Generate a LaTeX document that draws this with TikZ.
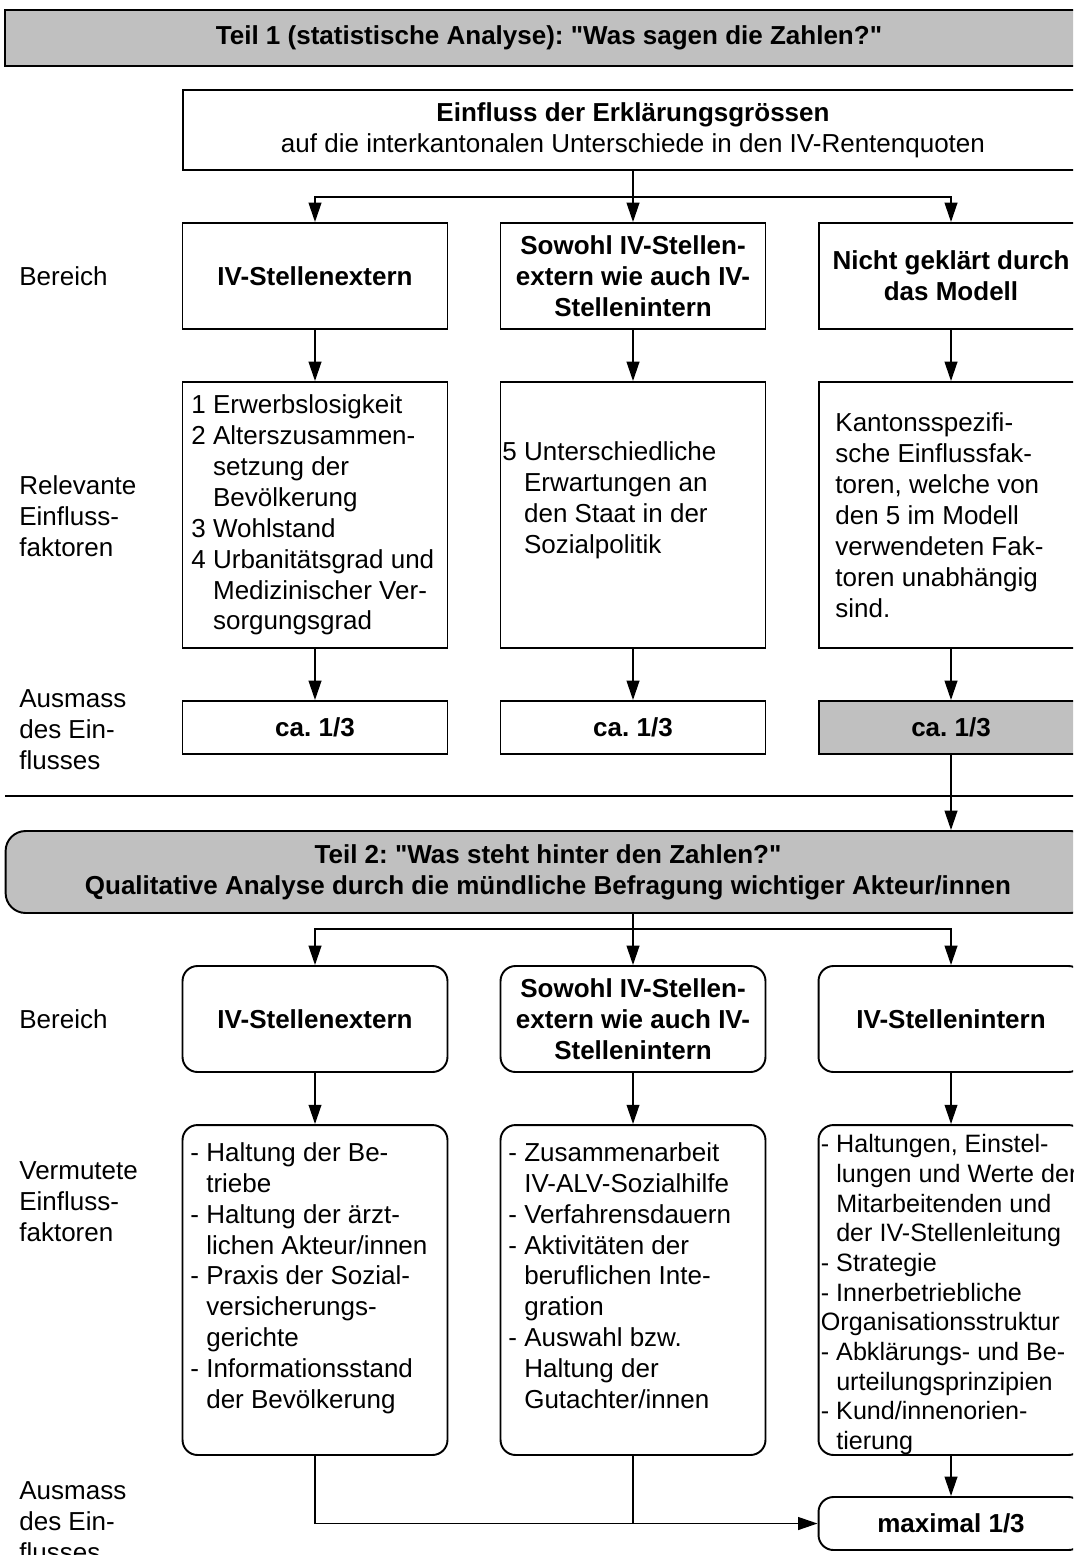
\documentclass[tikz,border=0pt]{standalone}
\usepackage{fontspec}
\setmainfont{Liberation Sans}
\usepackage{tikz}
\usetikzlibrary{positioning,arrows.meta,calc}
\usepackage{xcolor}
\definecolor{grau}{HTML}{C0C0C0}
\frenchspacing

\begin{document}
\begin{tikzpicture}[
    x=0.02cm, y=-0.02cm,
    font=\fontsize{14.8}{17.6}\selectfont,
    kasten/.style={draw=black, line width=1.1pt, minimum width=5.3cm, inner sep=0pt},
    rkasten/.style={kasten, rounded corners=0.3cm},
    kopf/.style={font=\fontsize{14.8}{17.6}\selectfont\bfseries, align=center},
    liste/.style={align=left, inner sep=0pt},
    seite/.style={align=left, anchor=west, inner sep=0pt},
    pfeil/.style={draw=black, line width=1.1pt, -{Triangle[length=11pt,width=7.2pt]}},
    linie/.style={draw=black, line width=1.1pt}
]

    % Rahmen (Bild ist rechts und unten abgeschnitten)
    \useasboundingbox (0,0) rectangle (1073,1555);
    \clip (0,0) rectangle (1073,1555);

    % Teil 1: Kopfbalken
    \node[kasten, kopf, fill=grau, minimum width=21.76cm, minimum height=1.12cm] (teil1) at (549,38)
        {Teil 1 (statistische Analyse): \textquotedbl Was sagen die Zahlen?\textquotedbl};

    \node[kasten, align=center, minimum width=18.02cm, minimum height=1.6cm] (einfluss) at (633,130)
        {\textbf{Einfluss der Erklärungsgrössen}\\auf die interkantonalen Unterschiede in den IV-Rentenquoten};

    % Bereich (Teil 1)
    \node[kasten, kopf, minimum height=2.12cm] (bA) at (315,276) {IV-Stellenextern};
    \node[kasten, kopf, minimum height=2.12cm] (bB) at (633,276) {Sowohl IV-Stellen-\\extern wie auch IV-\\Stellenintern};
    \node[kasten, kopf, minimum height=2.12cm] (bC) at (951,276) {Nicht geklärt durch\\das Modell};

    % Relevante Einflussfaktoren
    \node[kasten, minimum height=5.32cm] (rA) at (315,515) {};
    \node[kasten, minimum height=5.32cm] (rB) at (633,515) {};
    \node[kasten, minimum height=5.32cm] (rC) at (951,515) {};

    \node[liste, anchor=west] (rAtext) at ([xshift=0.19cm]rA.west)
        {1 Erwerbslosigkeit\\2 Alterszusammen-\\\phantom{2 }setzung der\\\phantom{2 }Bevölkerung\\3 Wohlstand\\4 Urbanitätsgrad und\\\phantom{4 }Medizinischer Ver-\\\phantom{4 }sorgungsgrad};
    \node[liste, anchor=west] (rBtext) at ([xshift=0.05cm,yshift=0.3cm]rB.west)
        {5 Unterschiedliche\\\phantom{5 }Erwartungen an\\\phantom{5 }den Staat in der\\\phantom{5 }Sozialpolitik};
    \node[liste, anchor=west] (rCtext) at ([xshift=0.35cm]rC.west)
        {Kantonsspezifi-\\sche Einflussfak-\\toren, welche von\\den 5 im Modell\\verwendeten Fak-\\toren unabhängig\\sind.};

    % Ausmass (Teil 1)
    \node[kasten, kopf, minimum height=1.06cm] (cA) at (315,727.5) {ca. 1/3};
    \node[kasten, kopf, minimum height=1.06cm] (cB) at (633,727.5) {ca. 1/3};
    \node[kasten, kopf, minimum height=1.06cm, fill=grau] (cC) at (951,727.5) {ca. 1/3};

    % Verbindungen Teil 1
    \coordinate (vzA) at (633,197);
    \draw[pfeil] (einfluss.south) -- (bB.north);
    \draw[pfeil] (vzA) -| (bA.north);
    \draw[pfeil] (vzA) -| (bC.north);
    \foreach \s in {A, B, C} {
        \draw[pfeil] (b\s.south) -- (r\s.north);
        \draw[pfeil] (r\s.south) -- (c\s.north);
    }

    % Trennlinie
    \draw[linie] (5,796) -- (1100,796);

    % Teil 2: Kopfbalken
    \node[kasten, kopf, fill=grau, rounded corners=0.4cm, minimum width=21.7cm, minimum height=1.64cm] (teil2) at (548,872)
        {Teil 2: \textquotedbl Was steht hinter den Zahlen?\textquotedbl\\Qualitative Analyse durch die mündliche Befragung wichtiger Akteur/innen};
    \draw[pfeil] (cC.south) -- (cC.south |- teil2.north);

    % Bereich (Teil 2)
    \node[rkasten, kopf, minimum height=2.12cm] (dA) at (315,1019) {IV-Stellenextern};
    \node[rkasten, kopf, minimum height=2.12cm] (dB) at (633,1019) {Sowohl IV-Stellen-\\extern wie auch IV-\\Stellenintern};
    \node[rkasten, kopf, minimum height=2.12cm] (dC) at (951,1019) {IV-Stellenintern};

    % Vermutete Einflussfaktoren
    \node[rkasten, minimum height=6.6cm] (vA) at (315,1290) {};
    \node[rkasten, minimum height=6.6cm] (vB) at (633,1290) {};
    \node[rkasten, minimum height=6.6cm] (vC) at (951,1290) {};

    \node[liste, anchor=north west] (vAtext) at ([xshift=0.17cm,yshift=-0.36cm]vA.north west)
        {- Haltung der Be-\\\phantom{- }triebe\\- Haltung der ärzt-\\\phantom{- }lichen Akteur/innen\\- Praxis der Sozial-\\\phantom{- }versicherungs-\\\phantom{- }gerichte\\- Informationsstand\\\phantom{- }der Bevölkerung};
    \node[liste, anchor=north west] (vBtext) at ([xshift=0.17cm,yshift=-0.36cm]vB.north west)
        {- Zusammenarbeit\\\phantom{- }IV-ALV-Sozialhilfe\\- Verfahrensdauern\\- Aktivitäten der\\\phantom{- }beruflichen Inte-\\\phantom{- }gration\\- Auswahl bzw.\\\phantom{- }Haltung der\\\phantom{- }Gutachter/innen};
    \node[liste, anchor=north west, font=\fontsize{14.3}{16.9}\selectfont] (vCtext) at ([xshift=0.06cm,yshift=-0.2cm]vC.north west)
        {- Haltungen, Einstel-\\\phantom{- }lungen und Werte der\\\phantom{- }Mitarbeitenden und\\\phantom{- }der IV-Stellenleitung\\- Strategie\\- Innerbetriebliche\\Organisationsstruktur\\- Abklärungs- und Be-\\\phantom{- }urteilungsprinzipien\\- Kund/innenorien-\\\phantom{- }tierung};

    % Ausmass (Teil 2)
    \node[rkasten, kopf, minimum height=1.06cm] (maxi) at (951,1523.5) {maximal 1/3};

    % Verbindungen Teil 2
    \coordinate (vzB) at (633,929);
    \draw[pfeil] (teil2.south -| vzB) -- (dB.north);
    \draw[pfeil] (vzB) -| (dA.north);
    \draw[pfeil] (vzB) -| (dC.north);
    \foreach \s in {A, B, C} {
        \draw[pfeil] (d\s.south) -- (v\s.north);
    }
    \draw[pfeil] (vC.south) -- (maxi.north);
    \draw[pfeil] (vA.south) |- (maxi.west);
    \draw[linie] (vB.south) -- (vB.south |- maxi.west);

    % Zeilenbeschriftungen am linken Rand
    \node[seite] (lbA) at (19,276) {Bereich};
    \node[seite] (lbB) at (19,516) {Relevante\\Einfluss-\\faktoren};
    \node[seite] (lbC) at (19,730) {Ausmass\\des Ein-\\flusses};
    \node[seite] (lbD) at (19,1019) {Bereich};
    \node[seite] (lbE) at (19,1202) {Vermutete\\Einfluss-\\faktoren};
    \node[seite] (lbF) at (19,1522) {Ausmass\\des Ein-\\flusses};

\end{tikzpicture}
\end{document}
